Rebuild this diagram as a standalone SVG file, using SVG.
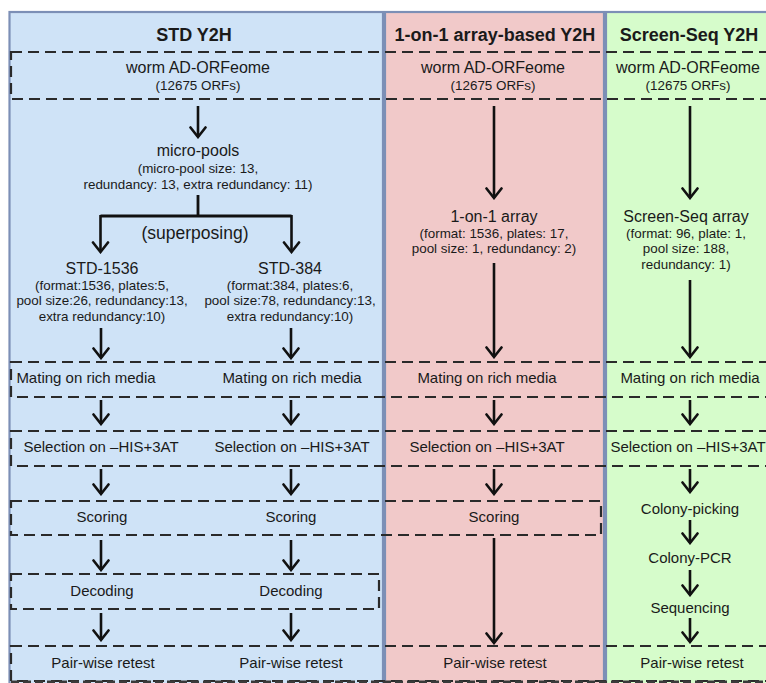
<svg xmlns="http://www.w3.org/2000/svg" width="766" height="683" viewBox="0 0 766 683">
<defs>
<marker id="ah" viewBox="-12 -10 14 20" markerWidth="14" markerHeight="20" refX="0" refY="0" orient="auto" markerUnits="userSpaceOnUse">
<path d="M-9.5,-7.5 L0,0 L-9.5,7.5" fill="none" stroke="#111" stroke-width="2.6" stroke-linecap="round" stroke-linejoin="miter"/>
</marker>
</defs>
<style>
text{font-family:"Liberation Sans",Arial,sans-serif;fill:#1a1a1a;text-anchor:middle}
.h{font-size:18px;font-weight:bold}
.m{font-size:16px}
.s{font-size:13.4px}
.t{font-size:15px}
.box{fill:none;stroke:#2a2a2a;stroke-width:2.2;stroke-dasharray:11 6}
.arr{fill:none;stroke:#111;stroke-width:2.6;marker-end:url(#ah)}
.br{fill:none;stroke:#111;stroke-width:2.8}
.panel{stroke:#7c8fb6;stroke-width:2.2}
</style>
<rect width="766" height="683" fill="#ffffff"/>
<g id="panels">
<rect class="panel" x="9.5" y="12" width="373.5" height="690" fill="#cfe3f7"/>
<rect class="panel" x="385" y="12" width="219" height="690" fill="#f1c9c9"/>
<rect class="panel" x="606" y="12" width="180" height="690" fill="#d6fccb"/>
</g>
<g id="headers">
<text class="h" x="194" y="41">STD Y2H</text>
<text class="h" x="495" y="41">1-on-1 array-based Y2H</text>
<text class="h" x="689" y="41">Screen-Seq Y2H</text>
</g>
<g id="rows">
<rect class="box" x="11" y="52" width="790" height="47"/>
<rect class="box" x="11" y="362" width="790" height="35"/>
<rect class="box" x="11" y="431" width="790" height="35"/>
<rect class="box" x="11" y="501" width="590" height="34"/>
<rect class="box" x="11" y="574" width="368" height="35"/>
<rect class="box" x="11" y="646" width="790" height="35"/>
<line x1="11" y1="682" x2="766" y2="682" stroke="#3a3a3a" stroke-width="3" stroke-dasharray="8 4"/>
</g>
<g id="connectors">
<line class="arr" x1="198" y1="106" x2="198" y2="137"/>
<path class="br" d="M198,195 V216 M100.5,216 H291.5"/>
<line class="arr" x1="100.5" y1="215" x2="100.5" y2="252"/>
<line class="arr" x1="291.5" y1="215" x2="291.5" y2="252"/>
<line class="arr" x1="101" y1="328" x2="101" y2="358"/>
<line class="arr" x1="291" y1="328" x2="291" y2="358"/>
<line class="arr" x1="101" y1="400" x2="101" y2="424"/>
<line class="arr" x1="291" y1="400" x2="291" y2="424"/>
<line class="arr" x1="101" y1="469" x2="101" y2="494"/>
<line class="arr" x1="291" y1="469" x2="291" y2="494"/>
<line class="arr" x1="101" y1="540" x2="101" y2="570"/>
<line class="arr" x1="291" y1="540" x2="291" y2="570"/>
<line class="arr" x1="101" y1="613" x2="101" y2="640"/>
<line class="arr" x1="291" y1="613" x2="291" y2="640"/>
<line class="arr" x1="494" y1="106" x2="494" y2="198"/>
<line class="arr" x1="494" y1="263" x2="494" y2="357"/>
<line class="arr" x1="494" y1="400" x2="494" y2="424"/>
<line class="arr" x1="494" y1="469" x2="494" y2="494"/>
<line class="arr" x1="494" y1="538" x2="494" y2="643"/>
<line class="arr" x1="690" y1="106" x2="690" y2="198"/>
<line class="arr" x1="690" y1="280" x2="690" y2="357"/>
<line class="arr" x1="690" y1="400" x2="690" y2="424"/>
<line class="arr" x1="690" y1="469" x2="690" y2="492"/>
<line class="arr" x1="690" y1="520" x2="690" y2="543"/>
<line class="arr" x1="690" y1="570" x2="690" y2="595"/>
<line class="arr" x1="690" y1="618" x2="690" y2="642"/>
</g>
<g id="n-orfeome-std"><text class="m" x="198" y="73">worm AD-ORFeome</text><text class="s" x="198" y="90">(12675 ORFs)</text></g>
<g id="n-orfeome-1on1"><text class="m" x="493" y="73">worm AD-ORFeome</text><text class="s" x="493" y="90">(12675 ORFs)</text></g>
<g id="n-orfeome-ss"><text class="m" x="688" y="73">worm AD-ORFeome</text><text class="s" x="688" y="90">(12675 ORFs)</text></g>
<g id="n-micropools"><text class="m" x="198" y="156">micro-pools</text><text class="s" x="198" y="173">(micro-pool size: 13,</text><text class="s" x="198" y="189">redundancy: 13, extra redundancy: 11)</text></g>
<g id="superposing"><text x="195" y="239" style="font-size:17.5px">(superposing)</text></g>
<g id="n-std1536"><text class="m" x="102" y="274">STD-1536</text><text class="s" x="102" y="290">(format:1536, plates:5,</text><text class="s" x="102" y="305">pool size:26, redundancy:13,</text><text class="s" x="102" y="321">extra redundancy:10)</text></g>
<g id="n-std384"><text class="m" x="290" y="274">STD-384</text><text class="s" x="290" y="290">(format:384, plates:6,</text><text class="s" x="290" y="305">pool size:78, redundancy:13,</text><text class="s" x="290" y="321">extra redundancy:10)</text></g>
<g id="n-1on1array"><text class="m" x="494" y="222">1-on-1 array</text><text class="s" x="494" y="238">(format: 1536, plates: 17,</text><text class="s" x="494" y="253">pool size: 1, redundancy: 2)</text></g>
<g id="n-ssarray"><text class="m" x="686" y="222">Screen-Seq array</text><text class="s" x="686" y="238">(format: 96, plate: 1,</text><text class="s" x="686" y="253">pool size: 188,</text><text class="s" x="686" y="269">redundancy: 1)</text></g>
<g id="n-mating"><text class="t" x="86" y="383">Mating on rich media</text><text class="t" x="292" y="383">Mating on rich media</text><text class="t" x="487" y="383">Mating on rich media</text><text class="t" x="690" y="383">Mating on rich media</text></g>
<g id="n-selection"><text class="t" x="101" y="452">Selection on –HIS+3AT</text><text class="t" x="292" y="452">Selection on –HIS+3AT</text><text class="t" x="487" y="452">Selection on –HIS+3AT</text><text class="t" x="688" y="452">Selection on –HIS+3AT</text></g>
<g id="n-scoring"><text class="t" x="102" y="522">Scoring</text><text class="t" x="291" y="522">Scoring</text><text class="t" x="494" y="522">Scoring</text></g>
<g id="n-decoding"><text class="t" x="102" y="596">Decoding</text><text class="t" x="291" y="596">Decoding</text></g>
<g id="n-colonypicking"><text class="t" x="690" y="514">Colony-picking</text></g>
<g id="n-colonypcr"><text class="t" x="690" y="563">Colony-PCR</text></g>
<g id="n-sequencing"><text class="t" x="690" y="613">Sequencing</text></g>
<g id="n-retest"><text class="t" x="103" y="668">Pair-wise retest</text><text class="t" x="291" y="668">Pair-wise retest</text><text class="t" x="495" y="668">Pair-wise retest</text><text class="t" x="692" y="668">Pair-wise retest</text></g>
</svg>
